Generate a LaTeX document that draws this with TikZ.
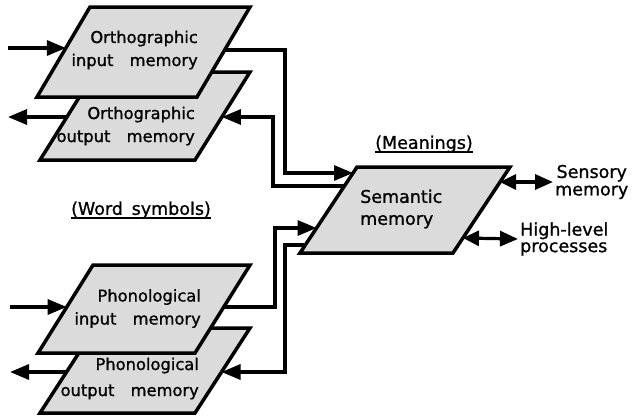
\documentclass[tikz,border=0pt]{standalone}
\usepackage{fontspec}
\setmainfont{DejaVu Sans}[FakeBold=1]
\usetikzlibrary{arrows.meta,calc}
\begin{document}
\begin{tikzpicture}[x=1pt,y=-1pt,
  box/.style={draw=black, line width=3.5pt, fill=black!14, line join=miter},
  boxtext/.style={font=\fontsize{16.3}{23}\selectfont, inner sep=0pt},
  lbl/.style={font=\fontsize{17.5}{16}\selectfont, inner sep=0pt},
  conn/.style={line width=3.2pt, -{Triangle[length=19pt,width=15pt]}},
  dbl/.style={line width=3.2pt, {Triangle[length=16pt,width=15pt]}-{Triangle[length=18pt,width=15pt]}},
  uline/.style={line width=1.8pt}
]
\useasboundingbox (0,0) rectangle (632,418);

% ---- parallelograms (output drawn first, input on top)
\draw[box] (40,160) -- (195,160) -- (250,72) -- (95,72) -- cycle;   % orthographic output
\draw[box] (37,97) -- (197,97) -- (250,7) -- (90,7) -- cycle;       % orthographic input
\draw[box] (40,413) -- (195,413) -- (250,328) -- (95,328) -- cycle; % phonological output
\draw[box] (38,353) -- (195,353) -- (250,265) -- (93,265) -- cycle; % phonological input
\draw[box] (300,253) -- (453,253) -- (510,167) -- (357,167) -- cycle; % semantic

% ---- texts
\node[boxtext, align=right, anchor=east] (oiT) at (198,50) {Orthographic\\input\hspace{1em}memory};
\node[boxtext, align=right, anchor=east] (ooT) at (195,126) {Orthographic\\output\hspace{1em}memory};
\node[boxtext, align=right, anchor=east] (piT) at (201,308.5) {Phonological\\input\hspace{1em}memory};
\node[boxtext, align=right, anchor=east, font=\fontsize{16.3}{26}\selectfont] (poT) at (199,378.5) {Phonological\\output\hspace{1em}memory};
\node[lbl, align=left, anchor=west, font=\fontsize{17.5}{22}\selectfont] (semT) at (360,209) {Semantic\\memory};

\node[lbl] (ws) at (141,210) {(Word\hspace{0.5em}symbols)};
\draw[uline] ($(ws.base west)+(0,3)$) -- ($(ws.base east)+(0,3)$);
\node[lbl] (mn) at (424,144) {(Meanings)};
\draw[uline] ($(mn.base west)+(0,3)$) -- ($(mn.base east)+(0,3)$);

\node[lbl, align=center, anchor=west, font=\fontsize{17.5}{17.5}\selectfont, inner sep=2pt] (sensL) at (553,182) {Sensory\\memory};
\node[lbl, align=left, anchor=west, font=\fontsize{17.5}{16.5}\selectfont, inner sep=2pt] (hlL) at (518,239) {High-level\\processes};

% ---- connector end points on box edges
\coordinate (inO) at (8,48);
\coordinate (oiIn) at (65.9,48);
\coordinate (oiOut) at (224.7,50);
\coordinate (semA) at (353,173);
\coordinate (semB) at (344.4,186);
\coordinate (ooIn) at (221.9,117);
\coordinate (ooOut) at (66.9,117);
\coordinate (outO) at (8,117);

\coordinate (inP) at (10,307);
\coordinate (piIn) at (66.7,307);
\coordinate (piOut) at (223.7,307);
\coordinate (semC) at (316.6,228);
\coordinate (semD) at (305.3,245);
\coordinate (poIn) at (221.5,372);
\coordinate (poOut) at (66.5,372);
\coordinate (outP) at (10,372);

\coordinate (semE) at (500,182);
\coordinate (semF) at (463,238);

% ---- connectors
\draw[conn] (inO) -- (oiIn);
\draw[conn] (ooOut) -- (outO);
\draw[conn] (oiOut) -- (285,50) |- (semA);
\draw[conn] (semB) -- (273,186) |- (ooIn);

\draw[conn] (inP) -- (piIn);
\draw[conn] (poOut) -- (outP);
\draw[conn] (piOut) -- (275,307) |- (semC);
\draw[conn] (semD) -- (285,245) |- (poIn);

\draw[dbl] (semE) -- (sensL.west);
\draw[dbl] (semF) -- (hlL.west);
\end{tikzpicture}
\end{document}
